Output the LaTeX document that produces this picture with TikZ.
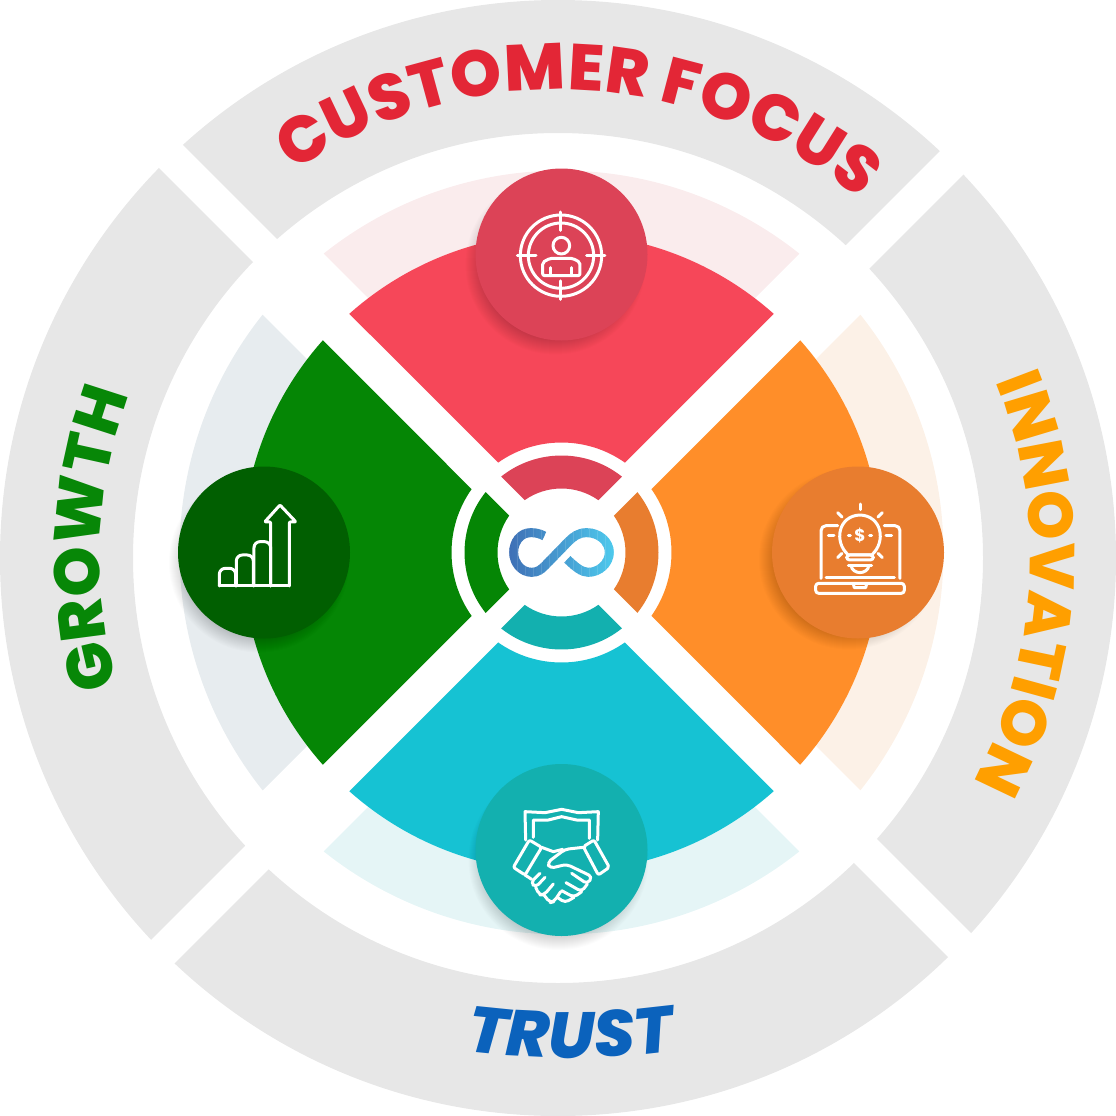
\documentclass[tikz,border=0pt]{standalone}
\usepackage{fontspec}
\setmainfont{Poppins}
\newfontfamily\wordfont{Poppins ExtraBold}[ItalicFont = {Poppins ExtraBold Italic}]
\usetikzlibrary{decorations.text}

\definecolor{ringgrey}{HTML}{E7E7E7}
\definecolor{softred}{HTML}{FAECED}
\definecolor{mainred}{HTML}{F64759}
\definecolor{deepred}{HTML}{DC4357}
\definecolor{softorange}{HTML}{FCF1E7}
\definecolor{mainorange}{HTML}{FF8E29}
\definecolor{deeporange}{HTML}{E87D2F}
\definecolor{softcyan}{HTML}{E5F5F6}
\definecolor{maincyan}{HTML}{16C2D3}
\definecolor{deepcyan}{HTML}{13B0AF}
\definecolor{softgreen}{HTML}{E7ECEF}
\definecolor{maingreen}{HTML}{058605}
\definecolor{deepgreen}{HTML}{015F01}
\definecolor{wordred}{HTML}{E32636}
\definecolor{wordorange}{HTML}{FF9F00}
\definecolor{wordgreen}{HTML}{078707}
\definecolor{wordblue}{HTML}{0B62BC}
\definecolor{logoleft}{HTML}{3F70B6}
\definecolor{logoright}{HTML}{4DC8EC}

% one wedge of a ring pointing up: inner radius, outer radius, apex offset, colour
\newcommand{\petal}[4]{%
  \pgfmathsetmacro\bout{acos(#3/(#2*sqrt(2)))-45}
  \pgfmathsetmacro\bin{acos(#3/(#1*sqrt(2)))-45}
  \fill[#4] (90-\bout:#2) arc (90-\bout:90+\bout:#2) -- (90+\bin:#1) arc (90+\bin:90-\bin:#1) -- cycle;
}

\begin{document}
\begin{tikzpicture}[x = 1pt, y = -1pt,
    icon/.style = { draw = white, line width = 3pt, line cap = round, line join = round },
    updown/.style = { shift = { (558,558) }, y = 1pt }
  ]
  \useasboundingbox (0,0) rectangle (1116,1116);

  % grey ring, cut by two white bands
  \fill[ringgrey, even odd rule] (558,558) circle [radius = 558] (558,558) circle [radius = 425];
  \draw[white, line width = 33.2pt] (0,-14.5) -- (1116,1101.5);
  \draw[white, line width = 33.2pt] (0,1114.5) -- (1114.5,0);

  % words
  \begin{scope}[updown]
    \path[decorate, decoration = { text along path, text align = fit to path, text color = wordred,
      text = {|\fontsize{65}{65}\selectfont\wordfont|CUSTOMER FOCUS} }] (124.4:468) arc (124.4:50:468);
    \path[decorate, decoration = { text along path, text align = fit to path, text color = wordorange,
      text = {|\fontsize{63}{63}\selectfont\wordfont|INNOVATION} }] (22:472) arc (22:-28:472);
    \path[decorate, decoration = { text along path, text align = fit to path, text color = wordgreen,
      text = {|\fontsize{64}{64}\selectfont\wordfont|GROWTH} }] (196.2:458) arc (196.2:160:458);
  \end{scope}
  \begin{scope}[shift = { (567,258) }, y = 1pt]
    \path[decorate, decoration = { text along path, text align = fit to path, text color = wordblue,
      text = {|\fontsize{65}{65}\selectfont\wordfont\itshape|TRUST} }] (262.8:800) arc (262.8:277:800);
  \end{scope}

  % the four wedges
  \foreach \turn/\soft/\main/\inner in {0/softred/mainred/deepred, -90/softorange/mainorange/deeporange,
      180/softcyan/maincyan/deepcyan, 90/softgreen/maingreen/maingreen} {
    \begin{scope}[shift = { (561.5,552.5) }, y = 1pt, rotate = \turn]
      \petal{200}{382}{61}{\soft}
      \petal{110}{319.4}{26.5}{\main}
      \petal{64}{97}{15.5}{\inner}
    \end{scope}
  }

  % discs with their shadows
  \foreach \px/\py/\dx/\dy/\deep in {561.5/254.5/-6/10/deepred, 858/552.5/-9/7/deeporange,
      561.5/850/-3/10/deepcyan, 264/552.5/-5/10/deepgreen} {
    \foreach \grow in {1,...,16} {
      \fill[black, opacity = .012] (\px+\dx,\py+\dy) circle [radius = 74+\grow];
    }
    \fill[\deep] (\px,\py) circle [radius = 86];
  }

  % target icon
  \begin{scope}[shift = { (470,165) }, x = .3333pt, y = -.3333pt]
    \draw[icon] (273,272) circle [radius = 122];
    \draw[icon] (273,272) circle [radius = 98];
    \draw[icon] (273,141) -- (273,196);
    \draw[icon] (273,348) -- (273,403);
    \draw[icon] (142,272) -- (198,272);
    \draw[icon] (350,272) -- (405,272);
    \draw[icon] (274,242) circle [radius = 25];
    \draw[icon, rounded corners = 2pt] (218,332) -- (218,292) -- (240,280) -- (308,280) -- (330,292) -- (330,332) -- cycle;
    \draw[icon] (242,332) -- (242,308);
    \draw[icon] (306,332) -- (306,308);
  \end{scope}

  % lamp and laptop icon
  \begin{scope}[shift = { (765,460) }, x = .3333pt, y = -.3333pt]
    \draw[icon] (250,285) .. controls (205,245) and (220,167) .. (285,165)
      .. controls (350,167) and (365,245) .. (320,285) -- cycle;
    \draw[icon, rounded corners = 3pt] (245,285) -- (325,285) -- (325,300) -- (245,300) -- cycle;
    \draw[icon] (250,316) -- (320,316);
    \draw[icon] (258,316) .. controls (262,345) and (308,345) .. (312,316);
    \node (dollar) [white, font = \fontsize{17}{17}\selectfont\bfseries] at (285,228) {\$};
    \draw[icon] (250,226) -- (256,226);
    \draw[icon] (314,226) -- (320,226);
    \draw[icon] (285,132) -- (285,149);
    \draw[icon] (218,158) -- (231,171);
    \draw[icon] (352,158) -- (339,171);
    \draw[icon] (218,293) -- (231,280);
    \draw[icon] (352,293) -- (339,280);
    \draw[icon] (190,226) -- (207,226);
    \draw[icon] (363,226) -- (380,226);
    \draw[icon, rounded corners = 5pt] (168,355) -- (168,197) -- (218,197);
    \draw[icon, rounded corners = 5pt] (405,355) -- (405,197) -- (358,197);
    \draw[icon] (183,352) -- (388,352);
    \draw[icon, rounded corners = 3pt] (152,370) -- (418,370) -- (418,400) -- (152,400) -- cycle;
    \draw[icon] (265,372) -- (268,383) -- (302,383) -- (305,372);
  \end{scope}

  % handshake icon
  \begin{scope}[shift = { (470,760) }, x = .3333pt, y = -.3333pt]
    \draw[icon] (167,240) -- (165,155) -- (225,158) -- (275,148) -- (325,158) -- (385,155) -- (383,240);
    \draw[icon] (190,232) -- (190,180) -- (235,180) -- (275,170) -- (320,180) -- (358,180) -- (358,235);
    \draw[icon, rounded corners = 2pt] (178,240) -- (215,262) -- (165,345) -- (130,322) -- cycle;
    \draw[icon, rounded corners = 2pt] (372,240) -- (340,260) -- (385,345) -- (418,322) -- cycle;
    \draw[icon] (215,262) -- (250,275) -- (278,268);
    \draw[icon, rounded corners = 4pt] (340,262) -- (285,268) -- (232,308) -- (240,325) -- (290,313) -- (367,350) -- (352,372) -- (305,340);
    \draw[icon, rounded corners = 4pt] (352,372) -- (335,395) -- (288,368);
    \draw[icon, rounded corners = 4pt] (335,395) -- (312,412) -- (275,392);
    \draw[icon, rounded corners = 4pt] (312,412) -- (285,428) -- (262,412);
    \draw[icon, rounded corners = 4pt] (210,340) -- (182,368) -- (197,382) -- (225,352);
    \draw[icon, rounded corners = 4pt] (197,382) -- (208,405) -- (222,405) -- (250,372);
    \draw[icon, rounded corners = 4pt] (222,405) -- (240,428) -- (252,425) -- (272,395);
    \draw[icon] (165,345) -- (185,358);
  \end{scope}

  % bars and arrow icon
  \begin{scope}[shift = { (170,460) }, x = .3333pt, y = -.3333pt]
    \draw[icon] (148,378) -- (358,378);
    \draw[icon, rounded corners = 6pt] (148,378) -- (148,325) -- (197,325) -- (197,378);
    \draw[icon, rounded corners = 6pt] (199,378) -- (199,285) -- (250,285) -- (250,378);
    \draw[icon, rounded corners = 6pt] (252,378) -- (252,245) -- (302,245) -- (302,378);
    \draw[icon, rounded corners = 1pt] (302,378) -- (302,186) -- (284,186) -- (330,135) -- (378,186) -- (358,186) -- (358,378);
  \end{scope}

  % infinity sign in the middle
  \begin{scope}[shift = { (440,430) }, x = .3333pt, y = -.3333pt]
    \foreach \band in {200,208,...,520} {
      \pgfmathsetmacro\share{(\band-205)/3.1}
      \begin{scope}
        \clip (\band,280) rectangle (\band+9,460);
        \draw[color = logoright!\share!logoleft, line width = 9pt] (313,318) .. controls (298,310) and (285,308) .. (272,308)
          .. controls (242,308) and (221,335) .. (221,367) .. controls (221,400) and (245,427) .. (275,427)
          .. controls (295,427) and (305,417) .. (315,407) -- (385,335) .. controls (400,320) and (415,308) .. (440,308)
          .. controls (478,308) and (508,335) .. (508,367) .. controls (508,400) and (478,427) .. (445,427)
          .. controls (425,427) and (405,410) .. (382,388);
      \end{scope}
    }
  \end{scope}
\end{tikzpicture}
\end{document}
